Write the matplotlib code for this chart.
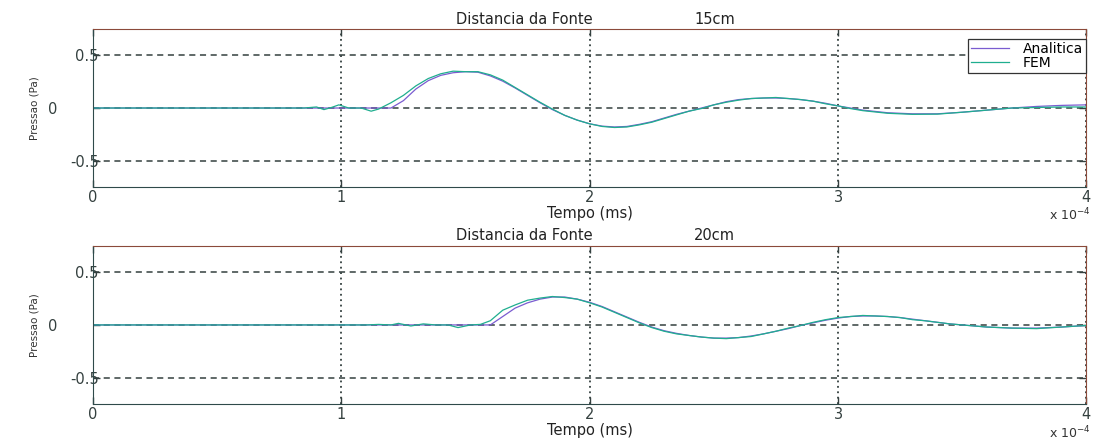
import numpy as np
import matplotlib.pyplot as plt

# time axis is in units of 1e-4 s (the "x 10^-4" note on the axis)
xticks = [0, 1, 2, 3, 4]
xticklabels = ['0', '1', '2', '3', '4']
yticks = [0.5, 0, -0.5]
yticklabels = ['0.5', '0         ', '-0.5']

# 15 cm from the source
t_ana15 = [0, 1.2, 1.25, 1.3, 1.35, 1.4, 1.45, 1.5, 1.55, 1.6, 1.65, 1.7, 1.75, 1.8,
           1.85, 1.9, 1.95, 2.0, 2.05, 2.1, 2.15, 2.2, 2.25, 2.3, 2.35, 2.4, 2.45, 2.5,
           2.55, 2.6, 2.65, 2.7, 2.75, 2.8, 2.85, 2.9, 2.95, 3.0, 3.05, 3.1, 3.2, 3.3,
           3.4, 3.5, 3.6, 3.7, 3.8, 3.9, 4.0]
p_ana15 = [0, 0, 0.07, 0.18, 0.26, 0.31, 0.335, 0.345, 0.34, 0.305, 0.255, 0.19, 0.12,
           0.05, -0.015, -0.07, -0.115, -0.15, -0.172, -0.18, -0.175, -0.155, -0.13,
           -0.095, -0.06, -0.03, 0.0, 0.03, 0.06, 0.08, 0.09, 0.095, 0.095, 0.09, 0.08,
           0.065, 0.045, 0.02, 0.0, -0.02, -0.045, -0.055, -0.055, -0.04, -0.02, 0.0,
           0.015, 0.025, 0.03]

t_fem15 = [0, 0.85, 0.9, 0.93, 0.96, 0.99, 1.03, 1.08, 1.12, 1.15, 1.2, 1.25, 1.3, 1.35,
           1.4, 1.45, 1.5, 1.55, 1.6, 1.65, 1.7, 1.75, 1.8, 1.85, 1.9, 1.95, 2.0, 2.05,
           2.1, 2.15, 2.2, 2.25, 2.3, 2.35, 2.4, 2.45, 2.5, 2.55, 2.6, 2.65, 2.7, 2.75,
           2.8, 2.85, 2.9, 2.95, 3.0, 3.05, 3.1, 3.2, 3.3, 3.4, 3.5, 3.6, 3.7, 3.8, 3.9, 4.0]
p_fem15 = [0, 0.0, 0.01, -0.015, 0.005, 0.03, 0.0, 0.0, -0.03, -0.01, 0.05, 0.12, 0.21,
           0.28, 0.325, 0.35, 0.345, 0.345, 0.315, 0.265, 0.195, 0.125, 0.055, -0.01,
           -0.07, -0.115, -0.15, -0.175, -0.185, -0.18, -0.16, -0.135, -0.1, -0.065,
           -0.03, -0.005, 0.03, 0.055, 0.075, 0.09, 0.095, 0.1, 0.09, 0.08, 0.065, 0.04,
           0.02, -0.005, -0.025, -0.05, -0.06, -0.058, -0.04, -0.02, 0.0, 0.005, 0.01, 0.01]

# 20 cm from the source
t_ana20 = [0, 1.6, 1.65, 1.7, 1.75, 1.8, 1.85, 1.9, 1.95, 2.0, 2.05, 2.1, 2.15, 2.2,
           2.25, 2.3, 2.35, 2.4, 2.45, 2.5, 2.55, 2.6, 2.65, 2.7, 2.75, 2.8, 2.85, 2.9,
           2.95, 3.0, 3.05, 3.1, 3.15, 3.2, 3.25, 3.3, 3.35, 3.4, 3.45, 3.5, 3.6, 3.7,
           3.8, 3.9, 4.0]
p_ana20 = [0, 0, 0.08, 0.16, 0.21, 0.245, 0.265, 0.265, 0.245, 0.215, 0.175, 0.125,
           0.075, 0.025, -0.02, -0.055, -0.08, -0.1, -0.115, -0.125, -0.125, -0.12,
           -0.105, -0.085, -0.06, -0.035, -0.005, 0.02, 0.045, 0.065, 0.08, 0.085,
           0.085, 0.08, 0.07, 0.055, 0.04, 0.025, 0.01, 0.0, -0.02, -0.03, -0.03,
           -0.02, -0.005]

t_fem20 = [0, 1.1, 1.15, 1.2, 1.23, 1.28, 1.33, 1.38, 1.43, 1.47, 1.52, 1.56, 1.6, 1.65,
           1.7, 1.75, 1.8, 1.85, 1.9, 1.95, 2.0, 2.05, 2.1, 2.15, 2.2, 2.25, 2.3, 2.35,
           2.4, 2.45, 2.5, 2.55, 2.6, 2.65, 2.7, 2.75, 2.8, 2.85, 2.9, 2.95, 3.0, 3.05,
           3.1, 3.15, 3.2, 3.25, 3.3, 3.35, 3.4, 3.45, 3.5, 3.6, 3.7, 3.8, 3.9, 4.0]
p_fem20 = [0, 0, 0.005, 0.0, 0.015, -0.01, 0.01, 0.0, 0.0, -0.025, 0.0, 0.005, 0.04,
           0.14, 0.19, 0.235, 0.255, 0.27, 0.26, 0.245, 0.21, 0.17, 0.12, 0.07, 0.02,
           -0.025, -0.06, -0.085, -0.1, -0.115, -0.125, -0.13, -0.12, -0.11, -0.085,
           -0.06, -0.03, -0.005, 0.025, 0.05, 0.07, 0.08, 0.09, 0.085, 0.08, 0.07,
           0.05, 0.04, 0.025, 0.01, 0.0, -0.02, -0.03, -0.035, -0.02, -0.005]

c_ana = '#7a5cd0'
c_fem = '#1fae8f'
grid_c = '#34403f'

fig = plt.figure(figsize=(10.94, 4.40), dpi=100)
ax1 = fig.add_axes([0.085, 0.575, 0.908, 0.359])
ax2 = fig.add_axes([0.085, 0.082, 0.908, 0.359])


def style(ax, dist):
    ax.set_xlim(0, 4)
    ax.set_ylim(-0.75, 0.75)
    ax.set_xticks(xticks)
    ax.set_xticklabels(xticklabels)
    ax.set_yticks(yticks)
    ax.set_yticklabels(yticklabels)
    ax.tick_params(direction='in', length=5, width=1, colors=grid_c,
                   top=True, right=True, labelsize=10.5)
    ax.tick_params(axis='y', pad=-4)
    ax.tick_params(axis='x', pad=2)
    ax.grid(axis='x', color=grid_c, linestyle=(0, (1, 2)), linewidth=1.3)
    ax.grid(axis='y', color=grid_c, linestyle=(0, (4, 3)), linewidth=1.1)
    for s in ['left', 'bottom']:
        ax.spines[s].set_color('#2f4a4a')
    for s in ['top', 'right']:
        ax.spines[s].set_color('#8b4a3a')
    ax.set_xlabel('Tempo (ms)', fontsize=10.5, color='#222', labelpad=1)
    ax.set_ylabel('Pressao (Pa)', fontsize=7.5, color='#333')
    ax.yaxis.set_label_coords(-0.054, 0.5)
    ax.text(0.4345, 1.035, 'Distancia da Fonte', transform=ax.transAxes,
            ha='center', va='baseline', fontsize=10.5, color='#222')
    ax.text(0.626, 1.035, dist, transform=ax.transAxes,
            ha='center', va='baseline', fontsize=10.5, color='#222')


ax1.plot(t_ana15, p_ana15, color=c_ana, lw=0.9, label='Analitica')
ax1.plot(t_fem15, p_fem15, color=c_fem, lw=0.9, label='FEM')
style(ax1, '15cm')
leg = ax1.legend(loc='upper right', bbox_to_anchor=(1.0, 0.94), borderaxespad=0,
                 fontsize=10, labelspacing=0.0, handlelength=2.7, handletextpad=1.0,
                 borderpad=0.25, fancybox=False, framealpha=1)
leg.get_frame().set_edgecolor('#333')
leg.get_frame().set_linewidth(0.9)

ax2.plot(t_ana20, p_ana20, color=c_ana, lw=0.9)
ax2.plot(t_fem20, p_fem20, color=c_fem, lw=0.9)
style(ax2, '20cm')

fig.text(0.997, 0.5, r'x 10$^{-4}$', fontsize=9, color='#333', ha='right', va='baseline')
fig.text(0.997, 0.004, r'x 10$^{-4}$', fontsize=9, color='#333', ha='right', va='baseline')

fig.savefig('out.png', dpi=100)
